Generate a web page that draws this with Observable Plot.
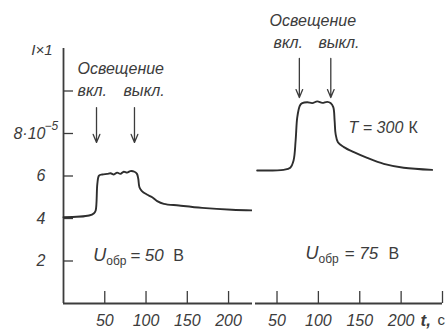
<!DOCTYPE html>
<html><head><meta charset="utf-8">
<script src="https://cdn.jsdelivr.net/npm/d3@7"></script>
<script src="https://cdn.jsdelivr.net/npm/@observablehq/plot@0.6"></script>
<style>
body{margin:0;background:#fff;}
#wrap{position:relative;width:447px;height:331px;overflow:hidden;}
#wrap svg{position:absolute;left:0;top:0;background:transparent !important;}
</style></head><body><div id="wrap"></div>
<script>
// Left panel: U_обр = 50 B
const leftT = [0,31,37,39,41,43,47,53,57,61,65,69,73,77,81,86,89,90.6,92,95,101,107.5,113.5,121.6,140,168,204,229];
const leftI = [4.06,4.14,4.25,4.38,5.63,6.02,6.07,6.10,6.13,6.07,6.16,6.10,6.20,6.16,6.23,6.20,6.10,5.87,5.47,5.29,5.13,5.0,4.82,4.69,4.61,4.5,4.41,4.38];
// Right panel: U_обр = 75 B, T = 300 K
const rightT = [26,58,66,70,72.5,74.5,77.7,80.5,86.6,92.6,98.7,104.7,110.7,114.7,118,119.6,120.8,123.6,130.8,142.9,159,179,203,237.5];
const rightI = [6.26,6.29,6.39,6.73,7.67,8.77,9.32,9.43,9.47,9.43,9.51,9.44,9.49,9.43,9.24,8.61,7.98,7.59,7.36,7.12,6.85,6.57,6.39,6.29];

const yTicks = [2,4,6,8,10];
const yTickLabels = ["2","4","6","8·10",""];
const leftXTicks = [50,100,150,200];
const rightXTicks = [50,100,150,200,250];
const rightXTickLabels = ["50","100","150","200",""];

// light on / off moments (s) and where their labels start
const leftSwitch = [40,86];
const leftSwitchLabelT = [17,72.7];
const rightSwitch = [77,115];
const rightSwitchLabelT = [45.8,100];
const switchLabels = ["вкл.","выкл."];

const ink = "#3c3c3c";
const font = "Liberation Sans";
const fs = 16;

function txt(data, o){
  return Plot.text(data, Object.assign({x:"t", y:"v", text:"s", fill:ink, fontFamily:font, fontSize:fs, textAnchor:"start", lineAnchor:"middle"}, o));
}

const common = {height:331, marginTop:48, marginBottom:28, y:{domain:[0,12], axis:null}, style:{background:"transparent", color:ink}};

const left = Plot.plot({
  ...common,
  width:252, marginLeft:63, marginRight:0,
  x:{domain:[0,229], axis:null},
  marks:[
    Plot.ruleX([0], {stroke:ink, strokeWidth:1.8}),
    Plot.ruleY([0], {stroke:ink, strokeWidth:1.8}),
    Plot.ruleY(yTicks, {y:d=>d, x1:0, x2:0, insetRight:-10, stroke:ink, strokeWidth:1.3}),
    Plot.ruleX(leftXTicks, {x:d=>d, y1:0, y2:0, insetTop:-12, stroke:ink, strokeWidth:1.3}),
    Plot.text(yTicks, {x:0, y:d=>d, text:(d,i)=>yTickLabels[i], dx:-18, textAnchor:"end", fill:ink, fontFamily:font, fontSize:fs, fontStyle:"italic"}),
    txt([{t:0, v:8, s:"−5"}], {dx:-19, dy:-7, fontSize:12, fontStyle:"italic"}),
    Plot.text(leftXTicks, {x:d=>d, y:0, dy:17, text:d=>String(d), fill:ink, fontFamily:font, fontSize:fs, fontStyle:"italic"}),
    txt([{t:0, v:11.9, s:"I×1"}], {dx:-11, textAnchor:"end", fontStyle:"italic", fontSize:15}),
    txt([{t:17, v:11.06, s:"Освещение"}], {fontStyle:"italic"}),
    txt(leftSwitchLabelT.map((t,i)=>({t, v:10.02, s:switchLabels[i]})), {fontStyle:"italic"}),
    Plot.arrow(leftSwitch, {x1:d=>d, x2:d=>d, y1:9.22, y2:7.58, stroke:ink, strokeWidth:1.3, headLength:10, headAngle:45}),
    Plot.line(leftT.map((t,i)=>({t, v:leftI[i]})), {x:"t", y:"v", stroke:"#2e2e2e", strokeWidth:1.9, curve:"catmull-rom"}),
    txt([{t:36, v:2.26, s:"U"}], {fontStyle:"italic", fontSize:18}),
    txt([{t:36, v:2.26, s:"обр"}], {dx:13, dy:6, fontSize:12}),
    txt([{t:36, v:2.26, s:"= 50"}], {dx:37, fontStyle:"italic", fontSize:17}),
    txt([{t:36, v:2.26, s:"В"}], {dx:80, fontSize:16})
  ]
});

const right = Plot.plot({
  ...common,
  width:447, marginLeft:255, marginRight:5,
  x:{domain:[24,250], axis:null},
  marks:[
    Plot.ruleY([0], {stroke:ink, strokeWidth:1.8}),
    Plot.ruleX(rightXTicks, {x:d=>d, y1:0, y2:0, insetTop:-12, stroke:ink, strokeWidth:1.3}),
    Plot.text(rightXTicks, {x:d=>d, y:0, dy:17, text:(d,i)=>rightXTickLabels[i], fill:ink, fontFamily:font, fontSize:fs, fontStyle:"italic"}),
    txt([{t:223.5, v:0, s:"t,"}], {dy:17, fontStyle:"italic", fontWeight:"bold", fontSize:17}),
    txt([{t:250, v:0, s:"с"}], {dy:17, dx:-5, fontSize:15}),
    txt([{t:41, v:13.3, s:"Освещение"}], {fontStyle:"italic"}),
    txt(rightSwitchLabelT.map((t,i)=>({t, v:12.28, s:switchLabels[i]})), {fontStyle:"italic"}),
    Plot.arrow(rightSwitch, {x1:d=>d, x2:d=>d, y1:11.53, y2:9.69, stroke:ink, strokeWidth:1.3, headLength:10, headAngle:45}),
    Plot.line(rightT.map((t,i)=>({t, v:rightI[i]})), {x:"t", y:"v", stroke:"#2e2e2e", strokeWidth:1.9, curve:"catmull-rom"}),
    txt([{t:136.5, v:8.28, s:"T = 300"}], {fontStyle:"italic"}),
    txt([{t:136.5, v:8.28, s:"К"}], {dx:60}),
    txt([{t:84.5, v:2.35, s:"U"}], {fontStyle:"italic", fontSize:18}),
    txt([{t:84.5, v:2.35, s:"обр"}], {dx:13, dy:6, fontSize:12}),
    txt([{t:84.5, v:2.35, s:"= 75"}], {dx:39, fontStyle:"italic", fontSize:17}),
    txt([{t:84.5, v:2.35, s:"В"}], {dx:83, fontSize:16})
  ]
});

const wrap = document.getElementById("wrap");
wrap.appendChild(left);
wrap.appendChild(right);
</script></body></html>
